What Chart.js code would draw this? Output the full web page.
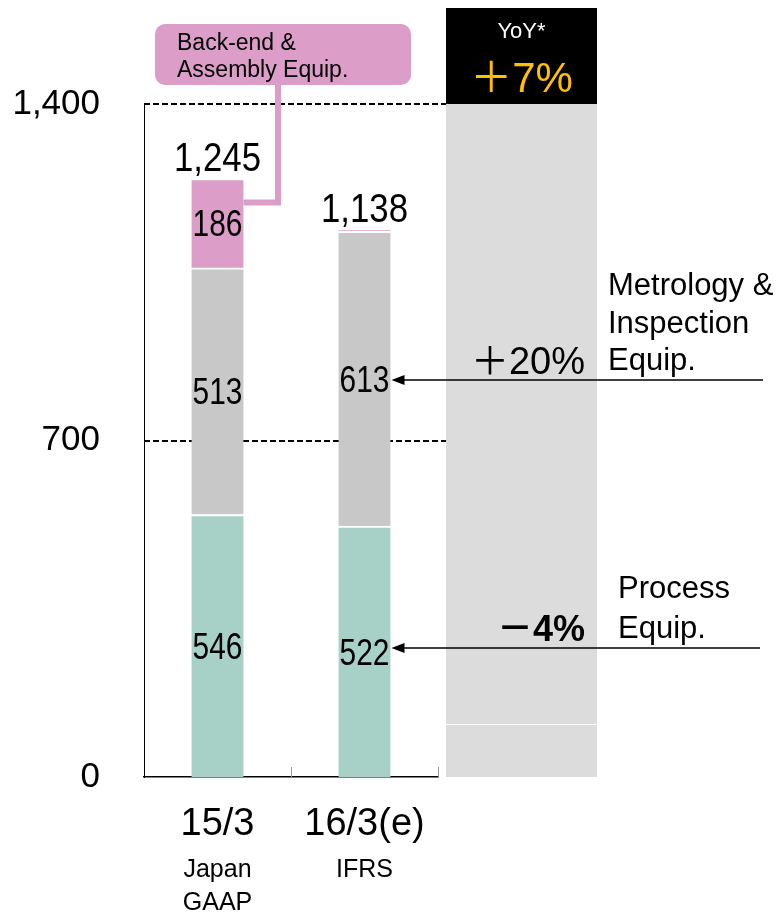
<!DOCTYPE html>
<html>
<head>
<meta charset="utf-8">
<script src="https://cdn.jsdelivr.net/npm/chart.js@4.4.0/dist/chart.umd.min.js"></script>
<style>
  html, body { margin: 0; padding: 0; background: #fff; }
  #wrap { width: 780px; height: 913px; }
</style>
</head>
<body>
<div id="wrap"><canvas id="salesChart" width="780" height="913"></canvas></div>
<script>
// Net sales by segment (100 million yen)
const periods = ['15/3', '16/3(e)'];
const standards = [['Japan', 'GAAP'], ['IFRS']];
const processEquip = [546, 522];
const metrologyEquip = [513, 613];
const backEndEquip = [186, 3];
const yTicks = [0, 700, 1400];

const yoyTotal = '＋7%';
const yoyMetrology = '＋20%';
const yoyProcess = '－4%';

const SANS = '"Liberation Sans", Arial, "Noto Sans CJK JP", sans-serif';

const colors = {
  process: '#a7d0c6',
  metrology: '#c8c8c8',
  backEnd: '#dc9ec8',
  panel: '#dcdcdc',
  yellow: '#ffc000'
};

const totals = periods.map((_, i) => processEquip[i] + metrologyEquip[i] + backEndEquip[i]);

function fmt(v) {
  return v.toLocaleString('en-US');
}

function text(ctx, str, x, y, font, color, align) {
  ctx.font = font;
  ctx.fillStyle = color;
  ctx.textAlign = align || 'center';
  ctx.textBaseline = 'alphabetic';
  ctx.fillText(str, x, y);
}

// squeezed horizontally to get the narrow gothic digits
function narrowText(ctx, str, x, y, size, sx) {
  ctx.save();
  ctx.translate(x, y);
  ctx.scale(sx, 1);
  text(ctx, str, 0, 0, size + 'px ' + SANS, '#000');
  ctx.restore();
}

function arrowLeft(ctx, x1, x2, y) {
  ctx.strokeStyle = '#000';
  ctx.lineWidth = 1.5;
  ctx.beginPath();
  ctx.moveTo(x2, y);
  ctx.lineTo(x1 + 10, y);
  ctx.stroke();
  ctx.fillStyle = '#000';
  ctx.beginPath();
  ctx.moveTo(x1, y);
  ctx.lineTo(x1 + 13, y - 5);
  ctx.lineTo(x1 + 13, y + 5);
  ctx.closePath();
  ctx.fill();
}

// grey YoY column, dashed grid and bottom ticks behind the bars
const backdrop = {
  id: 'backdrop',
  beforeDatasetsDraw(chart) {
    const { ctx, chartArea: area, scales: { x, y } } = chart;
    const panelLeft = area.right + 8;
    const panelWidth = 151;
    ctx.save();
    ctx.fillStyle = colors.panel;
    ctx.fillRect(panelLeft, area.top, panelWidth, area.bottom - area.top);
    ctx.fillStyle = '#fff';
    ctx.fillRect(panelLeft, area.bottom - 53, panelWidth, 1);
    ctx.fillStyle = '#000';
    ctx.fillRect(panelLeft, 8, panelWidth, area.top - 8);

    ctx.strokeStyle = '#000';
    ctx.lineWidth = 2;
    ctx.setLineDash([6, 3]);
    yTicks.filter(v => v > 0).forEach(v => {
      const py = Math.round(y.getPixelForValue(v));
      ctx.beginPath();
      ctx.moveTo(area.left, py);
      ctx.lineTo(panelLeft, py);
      ctx.stroke();
    });
    ctx.setLineDash([]);

    ctx.strokeStyle = '#999';
    ctx.lineWidth = 1;
    const step = x.getPixelForValue(1) - x.getPixelForValue(0);
    periods.forEach((_, i) => {
      const px = Math.round(x.getPixelForValue(i) + step / 2) + 0.5;
      ctx.beginPath();
      ctx.moveTo(px, area.bottom - 10);
      ctx.lineTo(px, area.bottom);
      ctx.stroke();
    });
    ctx.restore();
  }
};

// value labels, totals, YoY notes, arrows and the back-end callout
const annotations = {
  id: 'annotations',
  afterDraw(chart) {
    const { ctx, chartArea: area, scales: { x } } = chart;
    const panelLeft = area.right + 8;
    const panelCenter = panelLeft + 75.5;
    ctx.save();

    chart.data.datasets.forEach((ds, di) => {
      const meta = chart.getDatasetMeta(di);
      meta.data.forEach((bar, i) => {
        const h = bar.base - bar.y;
        if (h < 24) return;
        narrowText(ctx, fmt(ds.data[i]), bar.x, (bar.y + bar.base) / 2 + 13, 36, 0.83);
      });
    });

    const lastMeta = chart.getDatasetMeta(chart.data.datasets.length - 1);
    lastMeta.data.forEach((bar, i) => {
      narrowText(ctx, fmt(totals[i]), bar.x, bar.y - 8, 40, 0.87);
    });

    periods.forEach((_, i) => {
      const px = x.getPixelForValue(i);
      standards[i].forEach((line, k) => {
        text(ctx, line, px, 877 + k * 33, '25px ' + SANS, '#000');
      });
    });

    // YoY header
    text(ctx, 'YoY*', panelCenter, 38, '22px ' + SANS, '#fff');
    text(ctx, yoyTotal, panelCenter, 92, '42px ' + SANS, colors.yellow);

    // arrows into the 16/3 bar
    const metBar = chart.getDatasetMeta(1).data[1];
    const procBar = chart.getDatasetMeta(0).data[1];
    const metY = Math.round((metBar.y + metBar.base) / 2) + 1;
    const procY = Math.round((procBar.y + procBar.base) / 2) - 4;
    const barRight = metBar.x + metBar.width / 2 + 1;

    arrowLeft(ctx, barRight, 763, metY);
    arrowLeft(ctx, barRight, 760, procY);

    text(ctx, yoyMetrology, panelLeft + 139, metY - 6, '38px ' + SANS, '#000', 'right');
    text(ctx, yoyProcess, panelLeft + 139, procY - 7, 'bold 36px ' + SANS, '#000', 'right');

    ['Metrology &', 'Inspection', 'Equip.'].forEach((line, k) => {
      text(ctx, line, panelLeft + 162, metY - 85 + k * 37.5, '31px ' + SANS, '#000', 'left');
    });
    ['Process', 'Equip.'].forEach((line, k) => {
      text(ctx, line, panelLeft + 172, procY - 50 + k * 40, '31px ' + SANS, '#000', 'left');
    });

    // back-end callout with connector to the 15/3 bar
    const beBar = chart.getDatasetMeta(2).data[0];
    const bx = area.left + 11, by = 24, bw = 256, bh = 61;
    const lineX = area.left + 134;
    const lineY = beBar.y + 24;
    ctx.strokeStyle = colors.backEnd;
    ctx.lineWidth = 6;
    ctx.beginPath();
    ctx.moveTo(lineX, by + bh);
    ctx.lineTo(lineX, lineY);
    ctx.lineTo(beBar.x + beBar.width / 2, lineY);
    ctx.stroke();
    ctx.fillStyle = colors.backEnd;
    ctx.beginPath();
    ctx.roundRect(bx, by, bw, bh, 10);
    ctx.fill();
    text(ctx, 'Back-end &', bx + 22, by + 26, '23px ' + SANS, '#000', 'left');
    text(ctx, 'Assembly Equip.', bx + 22, by + 53, '23px ' + SANS, '#000', 'left');

    ctx.restore();
  }
};

function segment(label, data, color) {
  return {
    label: label,
    data: data,
    backgroundColor: color,
    borderColor: '#fff',
    borderWidth: { top: 2, left: 0, right: 0, bottom: 0 },
    borderSkipped: 'start',
    barThickness: 52
  };
}

const ctx = document.getElementById('salesChart').getContext('2d');

new Chart(ctx, {
  type: 'bar',
  data: {
    labels: periods,
    datasets: [
      segment('Process Equip.', processEquip, colors.process),
      segment('Metrology & Inspection Equip.', metrologyEquip, colors.metrology),
      segment('Back-end & Assembly Equip.', backEndEquip, colors.backEnd)
    ]
  },
  options: {
    responsive: false,
    animation: false,
    layout: {
      padding: { top: 104, right: 342, left: 0, bottom: 0 }
    },
    plugins: {
      legend: { display: false },
      tooltip: { enabled: false }
    },
    scales: {
      x: {
        stacked: true,
        grid: { display: false },
        border: { color: '#000', width: 1.5 },
        ticks: {
          color: '#000',
          padding: 17,
          font: { family: SANS, size: 38 }
        },
        afterFit: s => { s.height = 136; }
      },
      y: {
        stacked: true,
        min: 0,
        max: 1400,
        afterBuildTicks: s => { s.ticks = yTicks.map(v => ({ value: v })); },
        grid: { display: false },
        border: { color: '#000', width: 1 },
        ticks: {
          color: '#000',
          padding: 36,
          font: { family: SANS, size: 35 },
          callback: v => fmt(v)
        },
        afterFit: s => { s.width = 144; }
      }
    }
  },
  plugins: [backdrop, annotations]
});
</script>
</body>
</html>
